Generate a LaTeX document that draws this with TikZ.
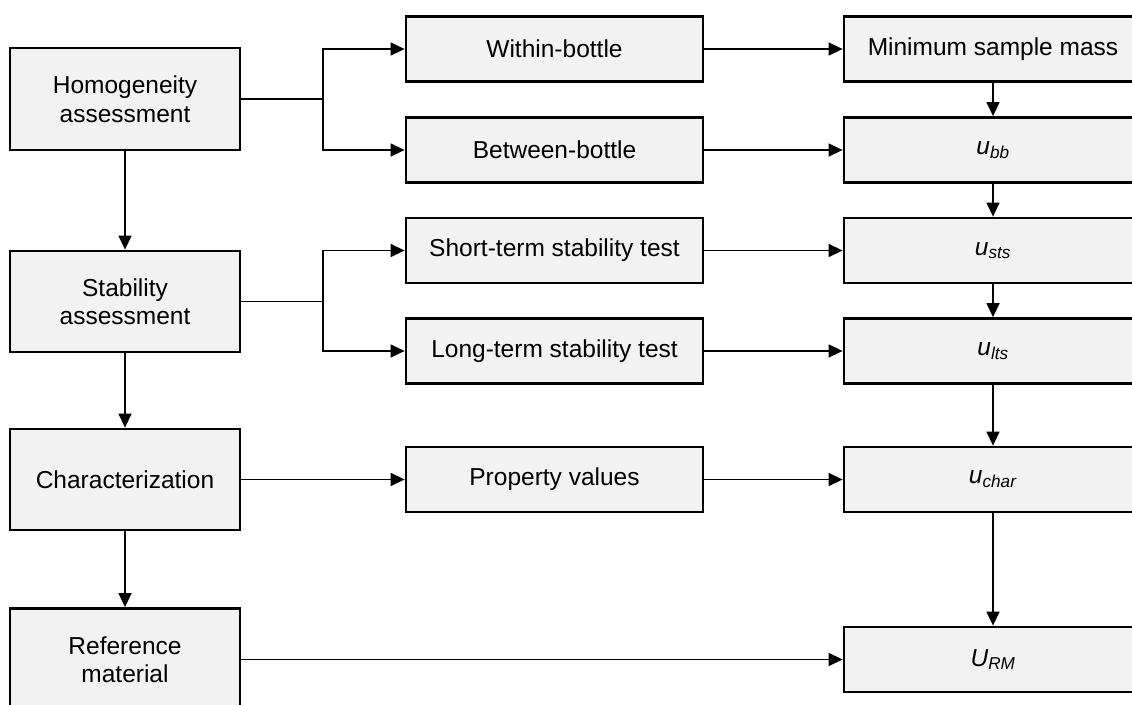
\documentclass[tikz,border=0pt]{standalone}
\usepackage{fontspec}
\setmainfont{Liberation Sans}
\usetikzlibrary{arrows.meta}
\definecolor{boxfill}{HTML}{F2F2F2}
\tikzset{
  box/.style={draw=black, fill=boxfill, line width=2.8pt, rectangle, align=center,
    inner sep=0pt, font=\fontsize{24.5}{28.5}\selectfont},
  leftbox/.style={box, minimum width=230pt, minimum height=102pt},
  midbox/.style={box, minimum width=297pt, minimum height=65pt},
  rightbox/.style={box, minimum width=298pt, minimum height=65pt},
  conn/.style={line width=1.4pt, draw=black},
  arr/.style={conn, -{Triangle[length=14pt,width=13pt]}},
}
\begin{document}
\begin{tikzpicture}[x=1pt,y=-1pt]
\useasboundingbox (0,0) rectangle (1132,704);
\clip (0,0) rectangle (1132,704);
% left column
\node[leftbox] (homog) at (125,99) {Homogeneity\\assessment};
\node[leftbox, minimum height=101pt] (stab) at (125,301.5) {Stability\\assessment};
\node[leftbox, minimum height=101pt] (char) at (125,479.5) {Characterization};
\node[leftbox] (ref) at (125,659.5) {Reference\\material};
% middle column
\node[midbox] (within) at (554.5,49) {Within-bottle};
\node[midbox] (between) at (554.5,150) {Between-bottle};
\node[midbox] (sts) at (554.5,250.5) {Short-term stability test};
\node[midbox] (lts) at (554.5,351) {Long-term stability test};
\node[midbox] (prop) at (554.5,479.5) {Property values};
% right column
\node[rightbox] (mass) at (993,49) {Minimum sample mass};
\node[rightbox] (ubb) at (993,150) {\textit{u}\textsubscript{\textit{bb}}};
\node[rightbox] (usts) at (993,250.5) {\textit{u}\textsubscript{\textit{sts}}};
\node[rightbox] (ults) at (993,351) {\textit{u}\textsubscript{\textit{lts}}};
\node[rightbox] (uchar) at (993,479.5) {\textit{u}\textsubscript{\textit{char}}};
\node[rightbox] (urm) at (993,659.5) {\textit{U}\textsubscript{\textit{RM}}};
% branch points
\coordinate (bh) at (323,99);
\coordinate (bs) at (323,301.5);
% left vertical arrows
\draw[arr] (homog) -- (stab);
\draw[arr] (stab) -- (char);
\draw[arr] (char) -- (ref);
% branches
\draw[conn] (homog.east) -- (bh);
\draw[arr] (bh) |- (within.west);
\draw[arr] (bh) |- (between.west);
\draw[conn] (stab.east) -- (bs);
\draw[arr] (bs) |- (sts.west);
\draw[arr] (bs) |- (lts.west);
\draw[arr] (char) -- (prop);
% middle to right
\draw[arr] (within) -- (mass);
\draw[arr] (between) -- (ubb);
\draw[arr] (sts) -- (usts);
\draw[arr] (lts) -- (ults);
\draw[arr] (prop) -- (uchar);
\draw[arr] (ref) -- (urm);
% right vertical arrows
\draw[arr] (mass) -- (ubb);
\draw[arr] (ubb) -- (usts);
\draw[arr] (usts) -- (ults);
\draw[arr] (ults) -- (uchar);
\draw[arr] (uchar) -- (urm);
\end{tikzpicture}
\end{document}
